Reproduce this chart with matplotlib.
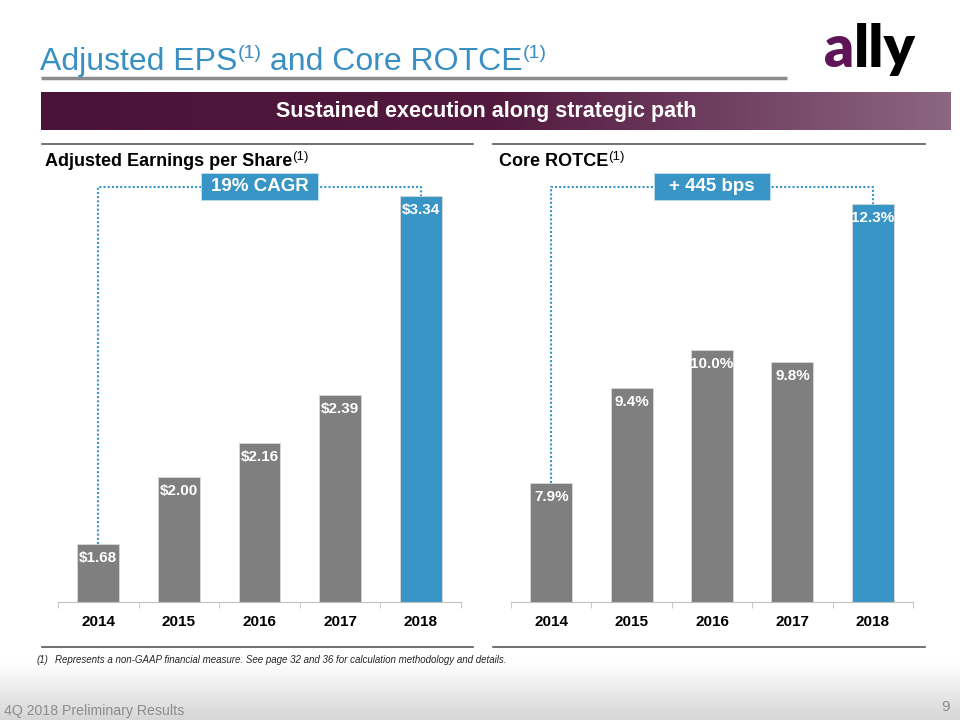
import numpy as np
import matplotlib
matplotlib.use("Agg")
import matplotlib.pyplot as plt
from matplotlib.colors import LinearSegmentedColormap
from matplotlib.patches import Rectangle

plt.rcParams["font.family"] = ["Liberation Sans", "DejaVu Sans"]

# ---- data ----
years = ["2014", "2015", "2016", "2017", "2018"]
eps = [1.68, 2.00, 2.16, 2.39, 3.34]
eps_labels = [r"\$1.68", r"\$2.00", r"\$2.16", r"\$2.39", r"\$3.34"]
rotce = [7.9, 9.4, 10.0, 9.8, 12.3]
rotce_labels = ["7.9%", "9.4%", "10.0%", "9.8%", "12.3%"]
eps_callout = "19% CAGR"
rotce_callout = "+ 445 bps"

GRAY = "#7F7F7F"
BLUE = "#3895C6"
TITLE_BLUE = "#3A8FC2"

fig = plt.figure(figsize=(9.6, 7.2), dpi=100)

# background axes in pixel coordinates
bg = fig.add_axes([0, 0, 1, 1])
bg.set_xlim(0, 960)
bg.set_ylim(720, 0)
bg.axis("off")

# footer gradient
foot = np.linspace(0, 1, 64).reshape(-1, 1)
foot_cmap = LinearSegmentedColormap.from_list("foot", ["#FFFFFF", "#D6D6D6"])
bg.imshow(foot, cmap=foot_cmap, extent=(0, 960, 720, 662), aspect="auto", zorder=0)

# banner gradient
band = np.linspace(0, 1, 256).reshape(1, -1)
band_cmap = LinearSegmentedColormap.from_list(
    "band", [(0, "#4A1338"), (0.5, "#53193F"), (1.0, "#8C6683")])
bg.imshow(band, cmap=band_cmap, extent=(41, 951, 130, 92), aspect="auto", zorder=1)
bg.text(486, 111, "Sustained execution along strategic path", color="white",
        fontsize=15.5, fontweight="bold", ha="center", va="center", zorder=2)

# rules
bg.plot([41, 787], [78, 78], color="#8C8C8C", lw=2.5, solid_capstyle="butt")
bg.plot([42, 473], [144, 144], color="#595959", lw=1.2)
bg.plot([493, 925], [144, 144], color="#595959", lw=1.2)
bg.plot([42, 473], [647, 647], color="#595959", lw=1.2)
bg.plot([493, 925], [647, 647], color="#595959", lw=1.2)

renderer = fig.canvas.get_renderer()


def rich_text(x, y, parts):
    # parts: (text, fontsize, raise_px, extra kwargs)
    for s, size, dy, kw in parts:
        t = bg.text(x, y - dy, s, fontsize=size, va="baseline", ha="left", **kw)
        x += t.get_window_extent(renderer=renderer).width
    return x


rich_text(40, 70, [
    ("Adjusted EPS", 23, 0, dict(color=TITLE_BLUE)),
    ("(1)", 14, 12, dict(color=TITLE_BLUE)),
    (" and Core ROTCE", 23, 0, dict(color=TITLE_BLUE)),
    ("(1)", 14, 12, dict(color=TITLE_BLUE)),
])

rich_text(45, 166, [
    ("Adjusted Earnings per Share", 13, 0, dict(fontweight="bold")),
    ("(1)", 9.5, 6, dict()),
])
rich_text(499, 166, [
    ("Core ROTCE", 13, 0, dict(fontweight="bold")),
    ("(1)", 9.5, 6, dict()),
])

# logo
x_l = rich_text(824, 67, [
    ("a", 42, 0, dict(color="#5F1458", fontweight="heavy", family="Lato")),
])
rich_text(x_l, 67, [("lly", 42, 0, dict(color="black", fontweight="heavy", family="Lato"))])

# footnote
bg.text(37, 660, "(1)", fontsize=7, style="italic", va="center", color="#262626")
bg.text(55, 660, "Represents a non-GAAP financial measure. See page 32 and 36 for calculation "
        "methodology and details.", fontsize=7, style="italic", va="center", color="#262626")

# footer
bg.text(4, 711, "4Q 2018 Preliminary Results", fontsize=10.2, color="#8C8C8C", va="center")
bg.text(950, 707, "9", fontsize=11, color="#8C8C8C", va="center", ha="right")


def bar_panel(rect, values, labels, ylo, yhi, callout):
    ax = fig.add_axes(rect)
    x = np.arange(len(values))
    colors = [GRAY] * (len(values) - 1) + [BLUE]
    ax.bar(x, values, width=0.52, color=colors, edgecolor="#D9D9D9", linewidth=0.6, zorder=2)
    ax.set_xlim(-0.5, len(values) - 0.5)
    ax.set_ylim(ylo, yhi)
    for xi, v, lab in zip(x, values, labels):
        ax.annotate(lab, (xi, v), xytext=(0, -10), textcoords="offset points",
                    ha="center", va="center", color="white", fontsize=11,
                    fontweight="bold", zorder=3)

    # bracket from first to last bar
    level = ylo + 0.973 * (yhi - ylo)
    ax.plot([x[0], x[0], x[-1], x[-1]], [values[0], level, level, values[-1]],
            color=BLUE, lw=1.5, ls=(0, (1, 1)), zorder=1, clip_on=False)
    trans = ax.get_xaxis_transform()
    ax.add_patch(Rectangle((2 - 0.72, 0.942), 1.44, 0.062, transform=trans,
                           facecolor=BLUE, edgecolor="#BFE0F0", lw=0.6,
                           zorder=4, clip_on=False))
    ax.text(2, 0.972, callout, transform=trans, ha="center", va="center",
            color="white", fontsize=13.5, fontweight="bold", zorder=5)

    for side in ("top", "right", "left"):
        ax.spines[side].set_visible(False)
    ax.spines["bottom"].set_color("#BFBFBF")
    ax.set_yticks([])
    ax.set_xticks(x)
    ax.set_xticklabels(years, fontsize=11, fontweight="bold")
    ax.set_xticks(np.arange(-0.5, len(values)), minor=True)
    ax.tick_params(axis="x", which="major", length=0, pad=9)
    ax.tick_params(axis="x", which="minor", length=4, color="#BFBFBF")
    ax.patch.set_alpha(0)
    return ax


bar_panel([58 / 960, 1 - 602 / 720, 403 / 960, 427 / 720], eps, eps_labels,
          1.403, 1.403 + 427 / 209.6, eps_callout)
bar_panel([511 / 960, 1 - 602 / 720, 402 / 960, 427 / 720], rotce, rotce_labels,
          6.02, 6.02 + 427 / 63.4, rotce_callout)

fig.savefig("out.png", dpi=100)
